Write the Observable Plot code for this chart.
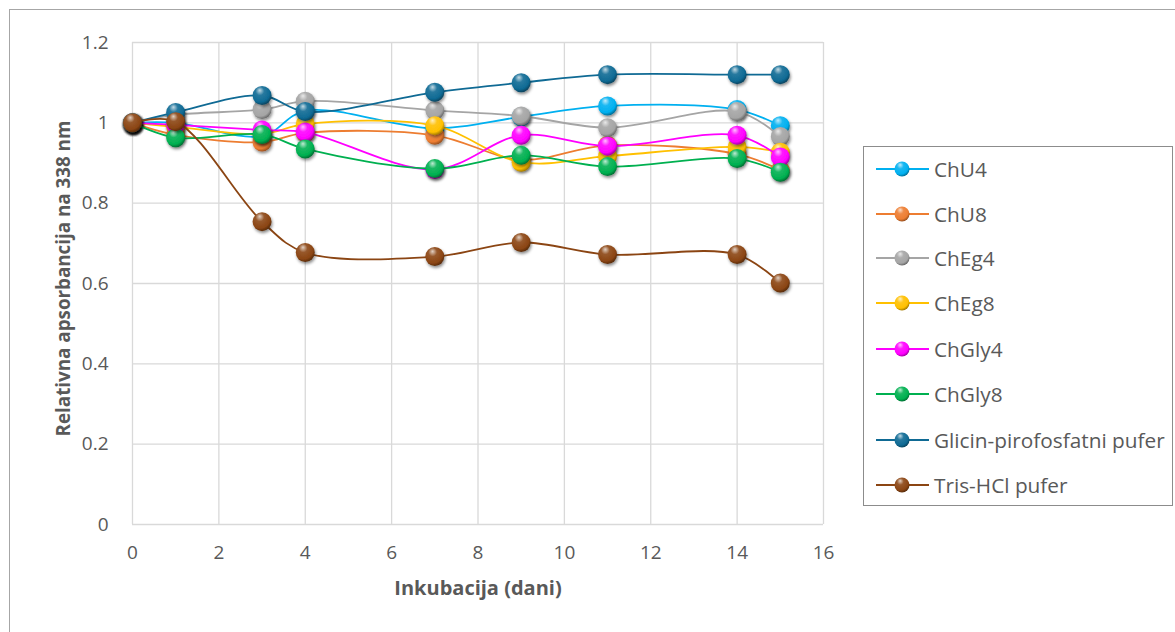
<!DOCTYPE html>
<html><head><meta charset="utf-8">
<script src="https://cdn.jsdelivr.net/npm/d3@7"></script>
<script src="https://cdn.jsdelivr.net/npm/@observablehq/plot@0.6"></script>
<style>
body{margin:0;background:#fff;font-family:"Open Sans",Lato,sans-serif;width:1175px;height:632px;overflow:hidden;position:relative;}
#frame{position:absolute;left:9px;top:9px;width:1175px;height:640px;border:1px solid #a6a6a6;box-sizing:border-box;}
#chart{position:absolute;left:0;top:0;}
#legend{position:absolute;left:863px;top:146px;width:310px;height:360px;border:1px solid #8c8c8c;background:#fff;box-sizing:border-box;}
.item{position:absolute;left:12px;height:24px;display:flex;align-items:center;font-size:20.8px;color:#595959;white-space:nowrap;}
.item svg{margin-right:5px;overflow:visible;}
</style></head>
<body>
<div id="frame"></div>
<div id="chart"></div>
<div id="legend"></div>
<script>
const days = [0, 1, 3, 4, 7, 9, 11, 14, 15];
const seriesNames = ["ChU4", "ChU8", "ChEg4", "ChEg8", "ChGly4", "ChGly8", "Glicin-pirofosfatni pufer", "Tris-HCl pufer"];
const seriesColors = ["#00b0f0", "#ed7d31", "#a5a5a5", "#ffc000", "#ff00ff", "#00b050", "#0f6a94", "#8b4513"];
const ChU4   = [1.0, 1.00, 0.967, 1.030, 0.986, 1.015, 1.042, 1.033, 0.993];
const ChU8   = [1.0, 0.970, 0.952, 0.975, 0.969, 0.908, 0.944, 0.922, 0.882];
const ChEg4  = [1.0, 1.020, 1.033, 1.054, 1.031, 1.017, 0.988, 1.028, 0.966];
const ChEg8  = [1.0, 0.990, 0.972, 0.997, 0.993, 0.902, 0.917, 0.940, 0.927];
const ChGly4 = [1.0, 0.995, 0.982, 0.977, 0.884, 0.969, 0.942, 0.969, 0.915];
const ChGly8 = [1.0, 0.963, 0.971, 0.935, 0.886, 0.919, 0.891, 0.911, 0.877];
const Glicin = [1.0, 1.026, 1.068, 1.028, 1.076, 1.100, 1.120, 1.120, 1.120];
const Tris   = [1.0, 1.003, 0.754, 0.677, 0.667, 0.702, 0.672, 0.672, 0.601];
const seriesValues = [ChU4, ChU8, ChEg4, ChEg8, ChGly4, ChGly8, Glicin, Tris];
const xTicks = [0, 2, 4, 6, 8, 10, 12, 14, 16];
const yTicks = [0, 0.2, 0.4, 0.6, 0.8, 1.0, 1.2];

const tables = seriesValues.map((vals, i) => days.map((d, j) => ({day: d, value: vals[j], series: seriesNames[i]})));

const marks = [
  Plot.gridX(xTicks, {stroke: "#d9d9d9", strokeOpacity: 1, strokeWidth: 1.3}),
  Plot.gridY(yTicks, {stroke: "#d9d9d9", strokeOpacity: 1, strokeWidth: 1.3}),
  Plot.axisX(xTicks, {tickSize: 0, tickPadding: 21, fontSize: 19, color: "#595959", label: null, tickFormat: d => String(d)}),
  Plot.axisY(yTicks, {tickSize: 0, tickPadding: 24, fontSize: 19, color: "#595959", label: null, tickFormat: d => d === 1 ? "1" : d === 0 ? "0" : String(+d.toFixed(1))}),
  Plot.text(["Inkubacija (dani)"], {frameAnchor: "bottom", dy: 70, fontSize: 20, fontWeight: "bold", fill: "#595959"}),
  Plot.text(["Relativna apsorbancija na 338 nm"], {frameAnchor: "left", dx: -69, dy: -5, rotate: -90, textAnchor: "middle", fontSize: 18.8, fontWeight: "bold", fill: "#595959"})
];
tables.forEach((t, i) => {
  marks.push(Plot.line(t, {x: "day", y: "value", stroke: seriesColors[i], strokeWidth: 1.8, curve: "catmull-rom"}));
  marks.push(Plot.dot(t, {x: "day", y: "value", r: 9.5, fill: `url(#grad${i})`, stroke: "none"}));
});

const chart = Plot.plot({
  width: 840, height: 632,
  marginLeft: 132, marginRight: 17, marginTop: 42, marginBottom: 108,
  x: {domain: [0, 16]},
  y: {domain: [0, 1.2]},
  style: {fontFamily: "'Open Sans', Lato, sans-serif", background: "transparent"},
  marks
});

function shade(c, k) {
  return k > 0 ? d3.interpolateRgb(c, "#ffffff")(k) : d3.interpolateRgb(c, "#000000")(-k);
}
const ns = "http://www.w3.org/2000/svg";
const defs = document.createElementNS(ns, "defs");
let defsHtml = `<filter id="shadow" x="-50%" y="-50%" width="200%" height="200%"><feDropShadow dx="1" dy="2" stdDeviation="1.6" flood-color="#000" flood-opacity="0.45"/></filter>`;
seriesColors.forEach((c, i) => {
  defsHtml += `<radialGradient id="grad${i}" cx="0.4" cy="0.35" r="0.65" fx="0.38" fy="0.22">
    <stop offset="0" stop-color="${shade(c, 0.75)}"/>
    <stop offset="0.35" stop-color="${shade(c, 0.1)}"/>
    <stop offset="0.8" stop-color="${c}"/>
    <stop offset="1" stop-color="${shade(c, -0.35)}"/>
  </radialGradient>`;
});
defs.innerHTML = defsHtml;
chart.insertBefore(defs, chart.firstChild);
chart.querySelectorAll("circle").forEach(c => c.setAttribute("filter", "url(#shadow)"));
document.getElementById("chart").appendChild(chart);

const legend = document.getElementById("legend");
const rowY = [168, 213, 257, 302, 348, 393, 439, 484];
seriesNames.forEach((name, i) => {
  const div = document.createElement("div");
  div.className = "item";
  div.style.top = (rowY[i] - 146 - 12) + "px";
  div.innerHTML = `<svg width="53" height="24"><line x1="0" y1="12" x2="53" y2="12" stroke="${seriesColors[i]}" stroke-width="2"/><circle cx="26" cy="12" r="7.5" fill="url(#grad${i})"/></svg><span>${name}</span>`;
  legend.appendChild(div);
});
</script>
</body></html>
